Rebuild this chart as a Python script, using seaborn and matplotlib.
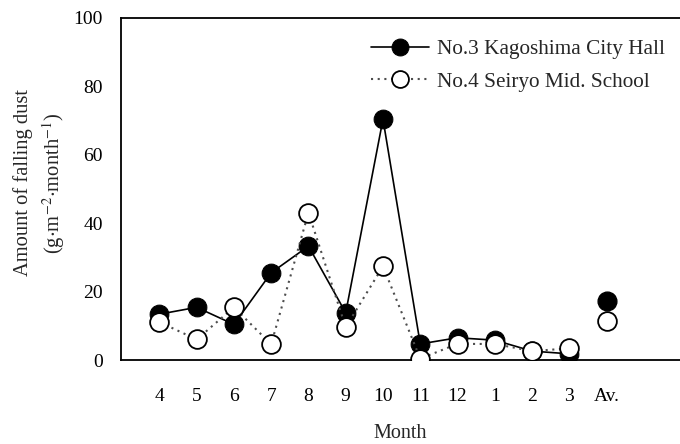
"""
Monthly amount of falling dust at two stations.
"""

import numpy as np
import matplotlib
matplotlib.use("Agg")
import matplotlib.pyplot as plt
import seaborn as sns

# Data
months = ['4', '5', '6', '7', '8', '9', '10', '11', '12', '1', '2', '3']
hall = [13.4, 15.4, 10.4, 25.5, 33.3, 13.8, 70.4, 4.7, 6.5, 5.8, 2.6, 1.8]
seiryo = [11.1, 6.0, 15.4, 4.6, 43.1, 9.6, 27.4, 0.4, 4.7, 4.7, 2.6, 3.4]
hall_avg = 17.2
seiryo_avg = 11.4
tick_labels = months + ['Av.']
hall_label = 'No.3 Kagoshima City Hall'
seiryo_label = 'No.4 Seiryo Mid. School'

sns.set_style('white')
plt.rcParams['font.family'] = ['Liberation Serif', 'DejaVu Serif']
plt.rcParams['mathtext.fontset'] = 'stix'

fig = plt.figure(figsize=(6.8, 4.44), dpi=100)
ax = fig.add_axes([121 / 680, 84 / 444, 559 / 680, 342 / 444])

x = np.arange(len(months))
ms = 13.5

# No.3 - filled circles, solid line
sns.lineplot(x=x, y=hall, ax=ax, sort=False, color='black', lw=1.2,
             marker='o', markersize=ms, markerfacecolor='black',
             markeredgecolor='black', label=hall_label, zorder=2)
# No.4 - open circles, dotted line
sns.lineplot(x=x, y=seiryo, ax=ax, sort=False, color='0.3', lw=1.5,
             linestyle=(0, (1, 2.2)), marker='o', markersize=ms,
             markerfacecolor='white', markeredgecolor='black',
             markeredgewidth=1.3, label=seiryo_label, zorder=3)

# averages (not joined to the monthly lines)
ax.plot([len(months)], [hall_avg], 'o', ms=ms, color='black', zorder=2)
ax.plot([len(months)], [seiryo_avg], 'o', ms=ms, mfc='white', mec='black',
        mew=1.3, zorder=3)

ax.set_xlim(-1.03, 13.97)
ax.set_ylim(0, 100)
ax.set_xticks(np.arange(len(tick_labels)))
ax.set_xticklabels(tick_labels)
ax.set_yticks(np.arange(0, 101, 20))

for side in ['left', 'top', 'bottom']:
    ax.spines[side].set_color('black')
    ax.spines[side].set_linewidth(1.3)
ax.spines['right'].set_visible(False)

ax.tick_params(axis='both', direction='in', length=6, width=1.1,
               colors='black', labelsize=14)
ax.tick_params(axis='x', pad=20)
ax.tick_params(axis='y', pad=13)

ax.set_xlabel('Month', fontsize=14.5, labelpad=14)
ax.set_ylabel('Amount of falling dust\n'
              r'(g$\cdot$m$^{-2}$$\cdot$month$^{-1}$)',
              fontsize=14.8, linespacing=1.35, labelpad=5)
ax.yaxis.label.set_y(0.518)

leg = ax.legend(loc='upper left', bbox_to_anchor=(0.447, 0.937),
                frameon=False, fontsize=15.3, handlelength=2.75,
                handletextpad=0.35, labelspacing=0.58, borderpad=0,
                borderaxespad=0, markerscale=0.9)

plt.savefig('out.png', dpi=100)
plt.close()
